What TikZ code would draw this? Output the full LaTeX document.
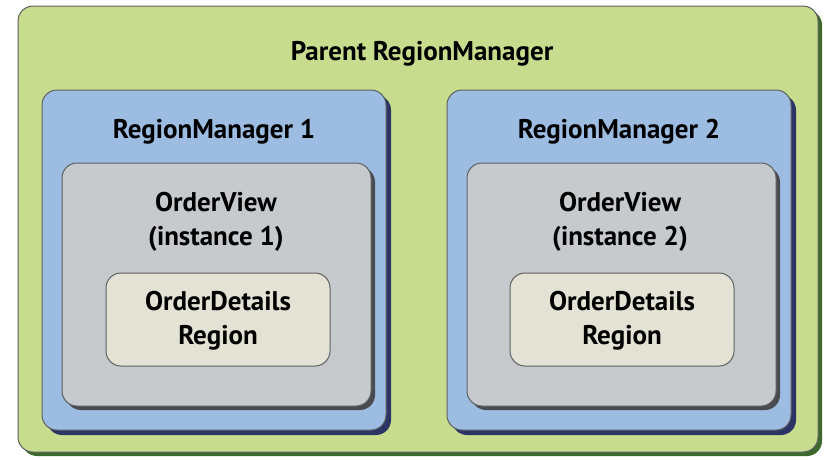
\documentclass[tikz,border=0pt]{standalone}
\usepackage{fontspec}
\setmainfont{PT Sans}
\usetikzlibrary{shadows}
\definecolor{parentfill}{HTML}{C8DC8D}
\definecolor{parentshade}{HTML}{3C6A2C}
\definecolor{managerfill}{HTML}{9CBCE2}
\definecolor{managershade}{HTML}{2C3466}
\definecolor{viewfill}{HTML}{C6CACD}
\definecolor{viewshade}{HTML}{4A4B50}
\definecolor{detailfill}{HTML}{E3E2D4}
\definecolor{edgegray}{HTML}{5E6060}
\tikzset{
  box/.style={draw=edgegray, line width=1pt, rounded corners=15pt, inner sep=0pt},
  parentbox/.style={box, fill=parentfill, minimum width=800pt, minimum height=446pt,
    drop shadow={shadow xshift=4pt, shadow yshift=-4pt, fill=parentshade, opacity=1}},
  managerbox/.style={box, fill=managerfill, minimum width=344pt, minimum height=340pt,
    drop shadow={shadow xshift=5pt, shadow yshift=-5pt, fill=managershade, opacity=1}},
  viewbox/.style={box, fill=viewfill, minimum width=309pt, minimum height=243pt,
    drop shadow={shadow xshift=4pt, shadow yshift=-4pt, fill=viewshade, opacity=1}},
  detailbox/.style={box, fill=detailfill, minimum width=224pt, minimum height=93pt},
  title/.style={font=\fontsize{27}{34}\selectfont\bfseries, align=center}
}
\begin{document}
\begin{tikzpicture}[x=1pt, y=-1pt]
\useasboundingbox (0,0) rectangle (825,459);
% outer box
\node[parentbox] (parent) at (418,229) {};
\node[title] (parentlabel) at (422,54) {Parent RegionManager};

% left column
\node[managerbox] (rm1) at (214,260) {};
\node[title] (rm1label) at (214,132) {RegionManager 1};
\node[viewbox] (ov1) at (216.5,284.5) {};
\node[title] (ov1label) at (216,222) {OrderView\\(instance 1)};
\node[detailbox] (odr1) at (218,319.5) {};
\node[title] (odr1label) at (218,321) {OrderDetails\\Region};

% right column
\node[managerbox] (rm2) at (619,260) {};
\node[title] (rm2label) at (619,132) {RegionManager 2};
\node[viewbox] (ov2) at (621.5,284.5) {};
\node[title] (ov2label) at (620,222) {OrderView\\(instance 2)};
\node[detailbox] (odr2) at (622,319.5) {};
\node[title] (odr2label) at (622,321) {OrderDetails\\Region};
\end{tikzpicture}
\end{document}
